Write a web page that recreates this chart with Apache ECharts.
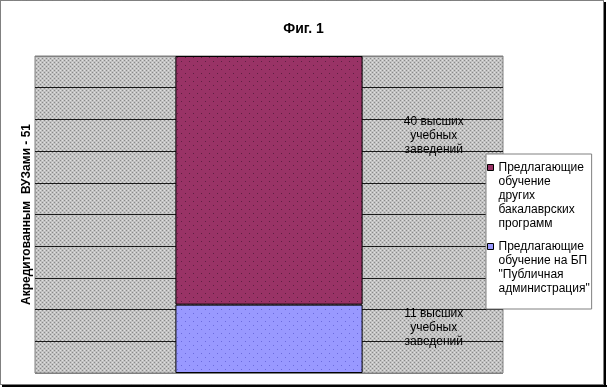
<!DOCTYPE html>
<html>
<head>
<meta charset="utf-8">
<script src="https://cdn.jsdelivr.net/npm/echarts@6/dist/echarts.min.js"></script>
<style>
html,body{margin:0;padding:0;background:#fff;}
#chart{width:607px;height:387px;}
</style>
</head>
<body>
<div id="chart"></div>
<script>
// ---- data ----
var titleText = 'Фиг. 1';
var categories = [''];
var seriesNames = [
  'Предлагающие\nобучение\nдругих\nбакалаврских\nпрограмм',
  'Предлагающие\nобучение на БП\n"Публичная\nадминистрация"'
];
var valuesPublicAdmin = [11];
var valuesOther = [40];
var axisTitlePrefix = 'Акредитованным  ВУЗами - ';
var labelSuffix = ' высших\nучебных\nзаведений';

var total = valuesPublicAdmin[0] + valuesOther[0];

// ---- patterns ----
function makePattern(size, base, dots) {
  var c = document.createElement('canvas');
  c.width = size; c.height = size;
  var g = c.getContext('2d');
  g.fillStyle = base; g.fillRect(0, 0, size, size);
  dots.forEach(function (d) { g.fillStyle = d[2]; g.fillRect(d[0], d[1], 1, 1); });
  return { image: c, repeat: 'repeat' };
}
var grayPat = makePattern(4, '#c2c2c2', [[0,0,'#8a8a8a'],[2,2,'#8a8a8a'],[2,0,'#e0e0e0'],[0,2,'#e0e0e0']]);
var maroonPat = makePattern(8, '#993366', [[1,1,'#5e1f40'],[5,5,'#5e1f40']]);
var bluePat = makePattern(8, '#9999ff', [[1,1,'#6b6bdd'],[5,5,'#6b6bdd']]);

var font = 'Arial, "Liberation Sans", sans-serif';
var splitColors = ['#808080'];
for (var i = 0; i < 9; i++) splitColors.push('#1a1a1a');
splitColors.push('#808080');

var chart = echarts.init(document.getElementById('chart'), null, { renderer: 'canvas' });
chart.setOption({
  animation: false,
  backgroundColor: '#fff',
  title: {
    text: titleText, left: 'center', top: 17,
    textStyle: { fontFamily: font, fontSize: 14, fontWeight: 'bold', color: '#000' }
  },
  grid: {
    left: 35, top: 56, right: 104, bottom: 14,
    show: true, backgroundColor: grayPat, borderColor: '#808080', borderWidth: 1
  },
  legend: {
    orient: 'vertical', left: 486, top: 154,
    padding: [6, 2, 6, 1], itemGap: 1,
    itemWidth: 6, itemHeight: 70,
    backgroundColor: '#fff', borderColor: '#808080', borderWidth: 1,
    selectedMode: false,
    itemStyle: { borderColor: '#000', borderWidth: 1 },
    textStyle: { fontFamily: font, fontSize: 12, lineHeight: 14, color: '#000' },
    data: [
      { name: seriesNames[0], icon: 'path://M0,4L6,4L6,10L0,10Z M0,0 M0,70', itemStyle: { color: '#993366' } },
      { name: seriesNames[1], icon: 'path://M0,11L6,11L6,17L0,17Z M0,0 M0,70', itemStyle: { color: '#9999ff' } }
    ]
  },
  xAxis: {
    type: 'category', data: categories,
    axisLine: { show: false }, axisTick: { show: false }, axisLabel: { show: false }
  },
  yAxis: {
    type: 'value', min: 0, max: total, interval: total / 10,
    name: axisTitlePrefix + total, nameLocation: 'middle', nameRotate: 90, nameGap: 2,
    nameTextStyle: { fontFamily: font, fontSize: 12, fontWeight: 'bold', color: '#000' },
    axisLine: { show: false }, axisTick: { show: false }, axisLabel: { show: false },
    splitLine: { show: true, lineStyle: { color: splitColors, width: 1 } }
  },
  series: [
    {
      name: seriesNames[1], type: 'bar', stack: 'all', data: valuesPublicAdmin,
      barWidth: '40%',
      itemStyle: { color: bluePat, borderColor: '#000', borderWidth: 1 },
      label: {
        show: true, position: ['138%', '33%'], align: 'center', verticalAlign: 'middle',
        fontFamily: font, fontSize: 12, lineHeight: 14, color: '#000',
        formatter: function (p) { return p.value + labelSuffix; }
      }
    },
    {
      name: seriesNames[0], type: 'bar', stack: 'all', data: valuesOther,
      barWidth: '40%',
      itemStyle: { color: maroonPat, borderColor: '#000', borderWidth: 1 },
      label: {
        show: true, position: ['138%', '32%'], align: 'center', verticalAlign: 'middle',
        fontFamily: font, fontSize: 12, lineHeight: 14, color: '#000',
        formatter: function (p) { return p.value + labelSuffix; }
      }
    }
  ],
  graphic: [
    { type: 'rect', silent: true, z: 100,
      shape: { x: 0.5, y: 0.5, width: 603, height: 384 },
      style: { fill: null, stroke: '#000', lineWidth: 1, lineDash: [1, 1] } },
    { type: 'line', silent: true, z: 100,
      shape: { x1: 605, y1: 2, x2: 605, y2: 387 },
      style: { stroke: '#000', lineWidth: 2 } },
    { type: 'line', silent: true, z: 100,
      shape: { x1: 2, y1: 386, x2: 607, y2: 386 },
      style: { stroke: '#000', lineWidth: 2 } }
  ]
});
</script>
</body>
</html>
